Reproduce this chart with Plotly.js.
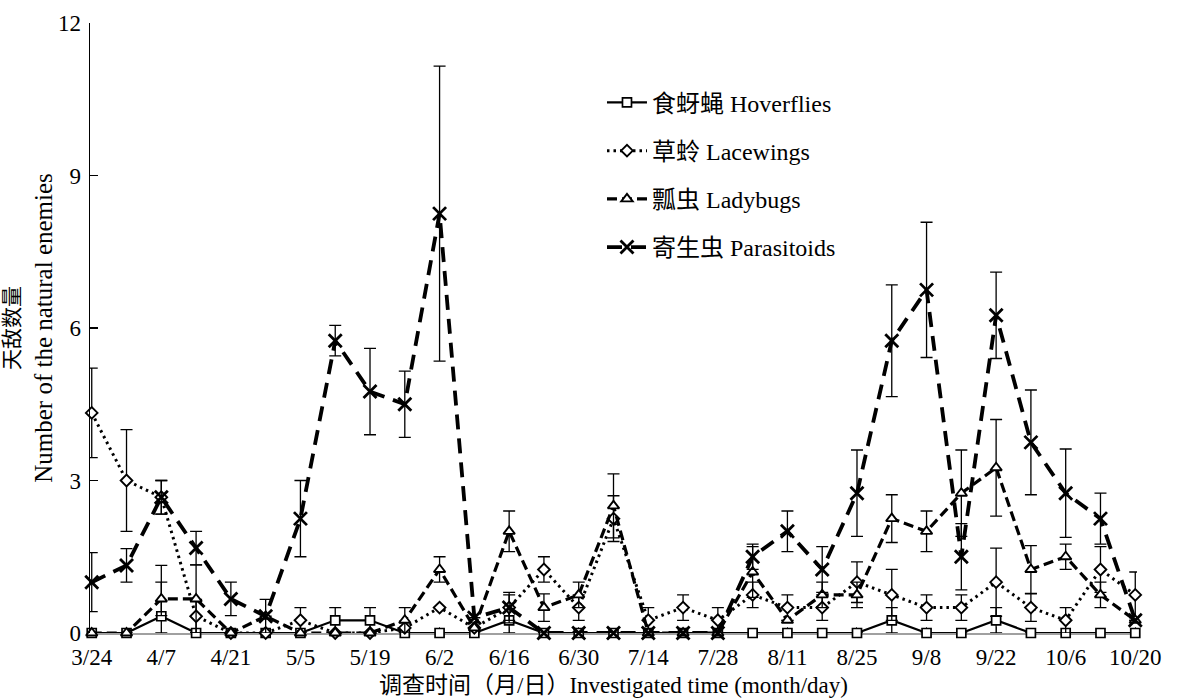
<!DOCTYPE html>
<html>
<head>
<meta charset="utf-8">
<script src="https://cdn.plot.ly/plotly-3.0.1.min.js"></script>
<style>html,body{margin:0;padding:0;background:#fff;}#chart{width:1177px;height:700px;}</style>
</head>
<body>
<div id="chart"></div>
<script>
// Survey dates (month/day), weekly
const dates = ['3/24','3/31','4/7','4/14','4/21','4/28','5/5','5/12','5/19','5/26','6/2','6/9','6/16','6/23','6/30','7/7','7/14','7/21','7/28','8/4','8/11','8/18','8/25','9/1','9/8','9/15','9/22','9/29','10/6','10/13','10/20'];
// Tick labels shown on the x axis
const tickLabels = ['3/24','4/7','4/21','5/5','5/19','6/2','6/16','6/30','7/14','7/28','8/11','8/25','9/8','9/22','10/6','10/20'];

const seriesNames = ['食蚜蝇 Hoverflies','草蛉 Lacewings','瓢虫 Ladybugs','寄生虫 Parasitoids'];

const hoverflies    = [0,0,0.33,0,0,0,0,0.25,0.25,0,0,0,0.25,0,0,0,0,0,0,0,0,0,0,0.25,0,0,0.25,0,0,0,0];
const hoverfliesErr = [null,null,1.0,null,null,null,null,0.25,0.25,null,null,null,0.25,null,null,null,null,null,null,null,null,null,null,0.25,null,null,0.25,null,null,null,null];

const lacewings    = [4.33,3.0,2.67,0.33,0,0,0.25,0,0,0.1,0.5,0.1,0.5,1.25,0.5,2.25,0.25,0.5,0.25,0.75,0.5,0.5,1.0,0.75,0.5,0.5,1.0,0.5,0.25,1.25,0.75];
const lacewingsErr = [0.88,1.0,0.33,0.33,null,null,0.25,null,null,null,null,null,0.25,0.25,0.25,0.45,0.25,0.25,0.25,0.25,0.25,0.25,0.4,0.5,0.25,0.25,0.67,0.27,0.25,0.45,0.45];

const ladybugs    = [0,0,0.67,0.67,0,0.33,0,0,0,0.25,1.25,0.1,2.0,0.5,0.75,2.5,0,0,0,1.2,0.25,0.75,0.75,2.25,2.0,2.75,3.25,1.25,1.5,0.75,0.25];
const ladybugsErr = [null,null,0.33,0.67,null,null,null,null,null,0.25,0.25,null,0.4,0.27,0.25,0.63,null,null,null,0.5,null,0.25,0.25,0.47,0.4,0.85,0.95,0.47,0.25,0.25,null];

const parasitoids    = [1.0,1.33,2.67,1.67,0.67,0.33,2.25,5.75,4.75,4.5,8.25,0.3,0.5,0,0,0,0,0,0,1.5,2.0,1.25,2.75,5.75,6.75,1.5,6.25,3.75,2.75,2.25,0.25];
const parasitoidsErr = [0.58,0.33,0.33,0.33,0.33,0.33,0.75,0.3,0.85,0.65,2.9,null,0.3,null,null,null,null,null,null,0.25,0.4,0.45,0.85,1.1,1.33,0.65,0.85,1.03,0.87,0.5,null];

const FONT = 'Liberation Serif, "Times New Roman", "Noto Sans CJK SC", serif';

function clipMinus(vals, errs){
  return errs.map((e,i)=> e==null ? null : Math.min(e, vals[i]));
}

function makeTrace(name, vals, errs, dash, width, symbol, msize, mlw, group){
  return {
    type:'scatter', mode:'lines+markers', name:name, x:dates, y:vals,
    legendgroup:group, cliponaxis:false,
    line:{color:'#000', width:width, dash:dash},
    marker:{symbol:symbol, size:msize, color: symbol.indexOf('x')===0 ? '#000' : '#fff', line:{color:'#000', width:mlw}},
    error_y:{type:'data', symmetric:false, array:errs, arrayminus:clipMinus(vals, errs), visible:true, color:'#000', thickness:1.3, width:6}
  };
}

const traces = [
  makeTrace(seriesNames[0], hoverflies, hoverfliesErr, 'solid', 2.2, 'square', 9, 1.7, 'g1'),
  makeTrace(seriesNames[1], lacewings, lacewingsErr, '2.5px,4px', 3, 'diamond', 9, 1.9, 'g2'),
  makeTrace(seriesNames[2], ladybugs, ladybugsErr, '10px,5px', 3.2, 'triangle-up', 10, 1.9, 'g3'),
  makeTrace(seriesNames[3], parasitoids, parasitoidsErr, '15px,9px', 3.8, 'x-thin', 13, 2.8, 'g4')
];

const layout = {
  width:1177, height:700,
  margin:{l:90, r:40, t:23, b:67},
  paper_bgcolor:'#fff', plot_bgcolor:'#fff',
  font:{family:FONT, color:'#000', size:22},
  showlegend:true,
  legend:{x:0.489, y:0.906, xanchor:'left', yanchor:'top', bgcolor:'rgba(0,0,0,0)',
          font:{family:FONT, size:24, color:'#000'}, tracegroupgap:14, itemwidth:40},
  xaxis:{
    type:'category', range:[-0.05, 30.05],
    tickmode:'array', tickvals:tickLabels, ticktext:tickLabels,
    showline:true, linecolor:'#a0a0a0', linewidth:2, layer:'below traces',
    ticks:'inside', ticklen:6, tickcolor:'#555', tickwidth:1,
    showgrid:false, zeroline:false,
    tickfont:{family:FONT, size:23, color:'#000'}, ticklabelstandoff:2,
    title:{text:'调查时间（月/日）Investigated time (month/day)', font:{family:FONT, size:23, color:'#000'}, standoff:8}
  },
  yaxis:{
    range:[0,12], tickmode:'array', tickvals:[0,3,6,9,12], ticktext:['0','3','6','9','12'],
    showline:true, linecolor:'#000', linewidth:1.5,
    ticks:'inside', ticklen:8, tickcolor:'#000', tickwidth:1.5,
    showgrid:false, zeroline:false,
    tickfont:{family:FONT, size:23, color:'#000'}, ticklabelstandoff:3,
    title:{text:'<span style="font-size:21px">天敌数量</span><br>Number of the natural enemies', font:{family:FONT, size:25, color:'#000'}, standoff:4}
  }
};

Plotly.newPlot('chart', traces, layout, {displayModeBar:false, staticPlot:true});
</script>
</body>
</html>
